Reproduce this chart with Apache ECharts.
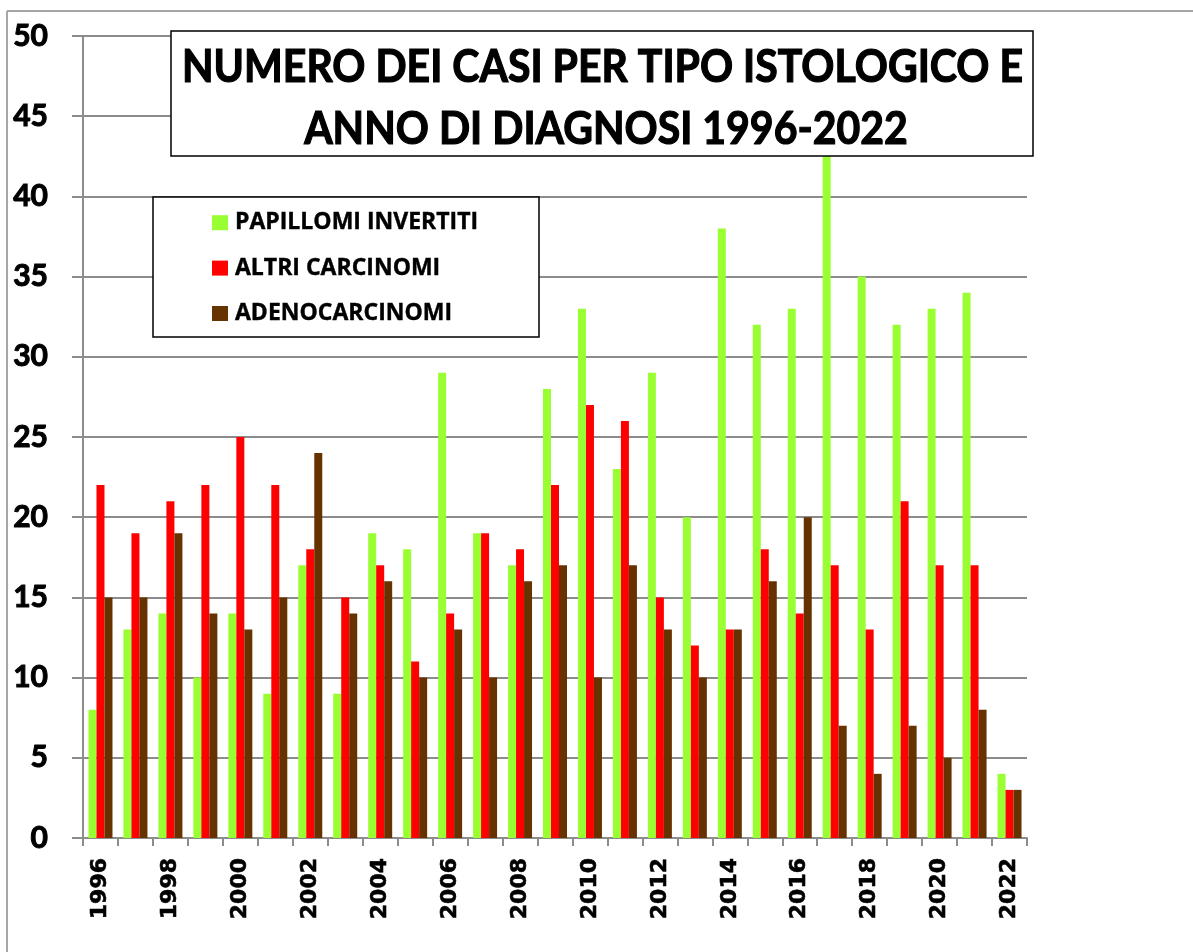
<!DOCTYPE html>
<html>
<head>
<meta charset="utf-8">
<script src="https://cdn.jsdelivr.net/npm/echarts@6/dist/echarts.min.js"></script>
<style>
  html, body { margin: 0; padding: 0; background: #fff; }
  #main { width: 1193px; height: 952px; }
</style>
</head>
<body>
<div id="main"></div>
<script>
// dati
var anni = ['1996', '1997', '1998', '1999', '2000', '2001', '2002', '2003', '2004',
  '2005', '2006', '2007', '2008', '2009', '2010', '2011', '2012', '2013', '2014',
  '2015', '2016', '2017', '2018', '2019', '2020', '2021', '2022'];
var papillomi = [8, 13, 14, 10, 14, 9, 17, 9, 19, 18, 29, 19, 17, 28, 33, 23, 29, 20, 38, 32, 33, 43, 35, 32, 33, 34, 4];
var altri = [22, 19, 21, 22, 25, 22, 18, 15, 17, 11, 14, 19, 18, 22, 27, 26, 15, 12, 13, 18, 14, 17, 13, 21, 17, 17, 3];
var adeno = [15, 15, 19, 14, 13, 15, 24, 14, 16, 10, 13, 10, 16, 17, 10, 17, 13, 10, 13, 16, 20, 7, 4, 7, 5, 8, 3];
var titolo = ['NUMERO DEI CASI PER TIPO ISTOLOGICO E', 'ANNO DI DIAGNOSI 1996-2022'];

var grigio = '#8c8c8c';

// larghezza del testo per comprimere il titolo come nell'originale
function larghezza(txt, font) {
  var c = document.createElement('canvas').getContext('2d');
  c.font = font;
  return c.measureText(txt).width;
}
var fontTitolo = 'bold 45px Lato';
var sx1 = 841 / larghezza(titolo[0], fontTitolo);

var chart = echarts.init(document.getElementById('main'));
chart.setOption({
  animation: false,
  backgroundColor: '#fff',
  grid: { left: 83, top: 36, right: 166, bottom: 114, containLabel: false },
  legend: {
    orient: 'vertical',
    left: 212,
    top: 211,
    padding: 0,
    itemWidth: 16,
    itemHeight: 15,
    itemGap: 22,
    icon: 'rect',
    z: 20,
    textStyle: {
      fontFamily: 'Open Sans', fontWeight: 'bold', fontSize: 23, color: '#000',
      padding: [0, 0, 0, 2], textBorderColor: '#000', textBorderWidth: 0.4
    },
    data: ['PAPILLOMI INVERTITI', 'ALTRI CARCINOMI', 'ADENOCARCINOMI']
  },
  xAxis: {
    type: 'category',
    data: anni,
    axisLine: { lineStyle: { color: grigio, width: 2 } },
    axisTick: { show: true, interval: 0, length: 8, lineStyle: { color: grigio, width: 2 } },
    axisLabel: {
      interval: 1, rotate: 90, margin: 20, color: '#000',
      fontFamily: 'DejaVu Sans', fontWeight: 'bold', fontSize: 22,
      textBorderColor: '#000', textBorderWidth: 0.6
    },
    splitLine: { show: false }
  },
  yAxis: {
    type: 'value',
    min: 0, max: 50, interval: 5,
    axisLine: { show: true, lineStyle: { color: grigio, width: 2 } },
    axisTick: { show: true, length: 11, lineStyle: { color: grigio, width: 2 } },
    axisLabel: {
      margin: 35, color: '#000', fontFamily: 'Lato', fontWeight: 'bold', fontSize: 30,
      textBorderColor: '#000', textBorderWidth: 1
    },
    splitLine: { lineStyle: { color: grigio, width: 2 } }
  },
  series: [
    { name: 'PAPILLOMI INVERTITI', type: 'bar', data: papillomi, barWidth: 8, barGap: '0%', itemStyle: { color: '#99ff33' } },
    { name: 'ALTRI CARCINOMI', type: 'bar', data: altri, barWidth: 8, barGap: '0%', itemStyle: { color: '#ff0000' } },
    { name: 'ADENOCARCINOMI', type: 'bar', data: adeno, barWidth: 8, barGap: '0%', itemStyle: { color: '#663300' } }
  ],
  graphic: [
    // cornice esterna
    { type: 'line', z: 1, shape: { x1: 7, y1: 11, x2: 1193, y2: 11 }, style: { stroke: '#a6a6a6', lineWidth: 2 } },
    { type: 'line', z: 1, shape: { x1: 7, y1: 11, x2: 7, y2: 952 }, style: { stroke: '#a6a6a6', lineWidth: 2 } },
    // riquadro del titolo
    { type: 'rect', z: 10, shape: { x: 171, y: 31, width: 862, height: 125 }, style: { fill: '#fff', stroke: '#000', lineWidth: 1.5 } },
    { type: 'text', z: 11, x: 602.5, y: 67, scaleX: sx1,
      style: { text: titolo[0], font: fontTitolo, fill: '#000', stroke: '#000', lineWidth: 1.2, align: 'center', verticalAlign: 'middle' } },
    { type: 'text', z: 11, x: 606, y: 129, scaleX: sx1,
      style: { text: titolo[1], font: fontTitolo, fill: '#000', stroke: '#000', lineWidth: 1.2, align: 'center', verticalAlign: 'middle' } },
    // riquadro della legenda
    { type: 'rect', z: 10, shape: { x: 153, y: 197, width: 386, height: 140 }, style: { fill: '#fff', stroke: '#000', lineWidth: 1.5 } }
  ]
});
</script>
</body>
</html>
